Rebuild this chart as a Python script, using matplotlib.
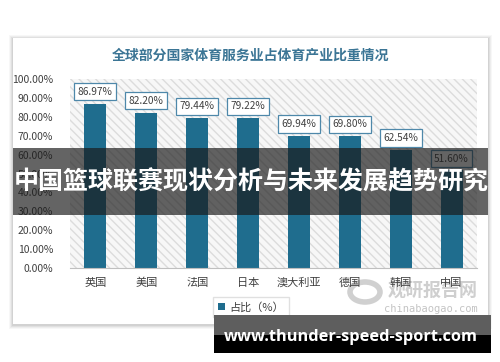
import matplotlib
matplotlib.use('Agg')
import matplotlib.pyplot as plt
import matplotlib.patches as patches
from matplotlib.ticker import FuncFormatter

plt.rcParams['font.family'] = ['Noto Sans CJK SC', 'DejaVu Sans']

# 数据
countries = ['英国', '美国', '法国', '日本', '澳大利亚', '德国', '韩国', '中国']
shares = [86.97, 82.20, 79.44, 79.22, 69.94, 69.80, 62.54, 51.60]
y_ticks = [0, 10, 20, 30, 40, 50, 60, 70, 80, 90, 100]
title = '全球部分国家体育服务业占体育产业比重情况'
banner = '中国篮球联赛现状分析与未来发展趋势研究'
url = 'www.thunder-speed-sport.com'

W, H = 500, 362
fig = plt.figure(figsize=(W / 100, H / 100), dpi=100)
fig.patch.set_facecolor('white')

# 背景层（像素坐标）
bg = fig.add_axes([0, 0, 1, 1], zorder=0)
bg.set_xlim(0, W)
bg.set_ylim(H, 0)
bg.axis('off')

# 卡片阴影
for i, a in enumerate([0.03, 0.04, 0.05, 0.06]):
    d = 4 - i
    bg.add_patch(patches.Rectangle((13 - d, 38 - d + 1), 475 + 2 * d, 286 + 2 * d,
                                   facecolor='#000000', alpha=a, linewidth=0))
bg.add_patch(patches.Rectangle((13, 38), 475, 286, facecolor='white', linewidth=0))

bg.text(251, 56, title, ha='center', va='center', fontsize=10,
        fontweight='bold', color='#3B7595')

# 水印
bg.add_patch(patches.Ellipse((365, 292), 30, 20, fill=False, edgecolor='#d0d0d0', linewidth=4))
bg.text(433, 290, '观研报告网', ha='center', va='center', fontsize=13,
        fontweight='bold', color='#cfcfcf')
bg.text(431, 309, 'chinabaogao.com', ha='center', va='center', fontsize=7.5,
        color='#c4c4c4', family=['DejaVu Sans Mono', 'DejaVu Sans'])

# 主图
ax = fig.add_axes([70 / W, (H - 268) / H, 407 / W, 189 / H], zorder=1)
ax.patch.set_alpha(0)
ax.add_patch(patches.Rectangle((0, 0), 1, 1, transform=ax.transAxes,
                               facecolor='#f7f7f7', edgecolor='#dcdcdc',
                               linewidth=0, hatch='\\\\\\\\', zorder=0))

x = list(range(len(countries)))
bars = ax.bar(x, shares, width=0.43, color='#1F6D8E', zorder=2, label='占比（%）')
for xi, v in zip(x, shares):
    ax.annotate(f'{v:.2f}%', xy=(xi, v), xytext=(0, 8.5), textcoords='offset points',
                ha='center', va='center', fontsize=7.3, color='#404040', zorder=3,
                bbox=dict(boxstyle='square,pad=0.35', facecolor='white',
                          edgecolor='#4E88AA', linewidth=0.9))

ax.set_xlim(-0.5, len(countries) - 0.5)
ax.set_ylim(0, 100)
ax.set_yticks(y_ticks)
ax.yaxis.set_major_formatter(FuncFormatter(lambda v, p: f'{v:.2f}%'))
ax.set_xticks(x)
ax.set_xticklabels(countries)
ax.tick_params(axis='both', length=0, labelsize=7.5, colors='#404040')
ax.tick_params(axis='y', pad=12)
ax.tick_params(axis='x', pad=7, labelsize=8)
for s in ['top', 'right', 'left']:
    ax.spines[s].set_visible(False)
ax.spines['bottom'].set_color('#bfbfbf')
ax.spines['bottom'].set_zorder(4)

leg = fig.legend(handles=[bars], loc='center', bbox_to_anchor=(251 / W, 1 - 307 / H),
                 fontsize=8, frameon=True, fancybox=False, edgecolor='#d9d9d9',
                 handlelength=0.6, handleheight=0.6, handletextpad=0.4,
                 borderpad=0.45, labelcolor='#404040')
leg.set_zorder(2)

# 顶层覆盖
ov = fig.add_axes([0, 0, 1, 1], zorder=5)
ov.set_xlim(0, W)
ov.set_ylim(H, 0)
ov.axis('off')
ov.patch.set_alpha(0)
ov.add_patch(patches.Rectangle((13, 148), 475, 67, facecolor='#1a1a1a', alpha=0.68, linewidth=0))
ov.text(251, 182, banner, ha='center', va='center', fontsize=18,
        fontweight='bold', color='white')
ov.add_patch(patches.Rectangle((214, 315), 277, 20, facecolor='#5e5e5e', linewidth=0))
ov.add_patch(patches.Rectangle((214, 335), 277, 18, facecolor='#000000', linewidth=0))
ov.text(351, 337, url, ha='center', va='center', fontsize=11.8,
        fontweight='bold', color='white', family=['Open Sans', 'DejaVu Sans'])

fig.savefig('out.png', dpi=100)
